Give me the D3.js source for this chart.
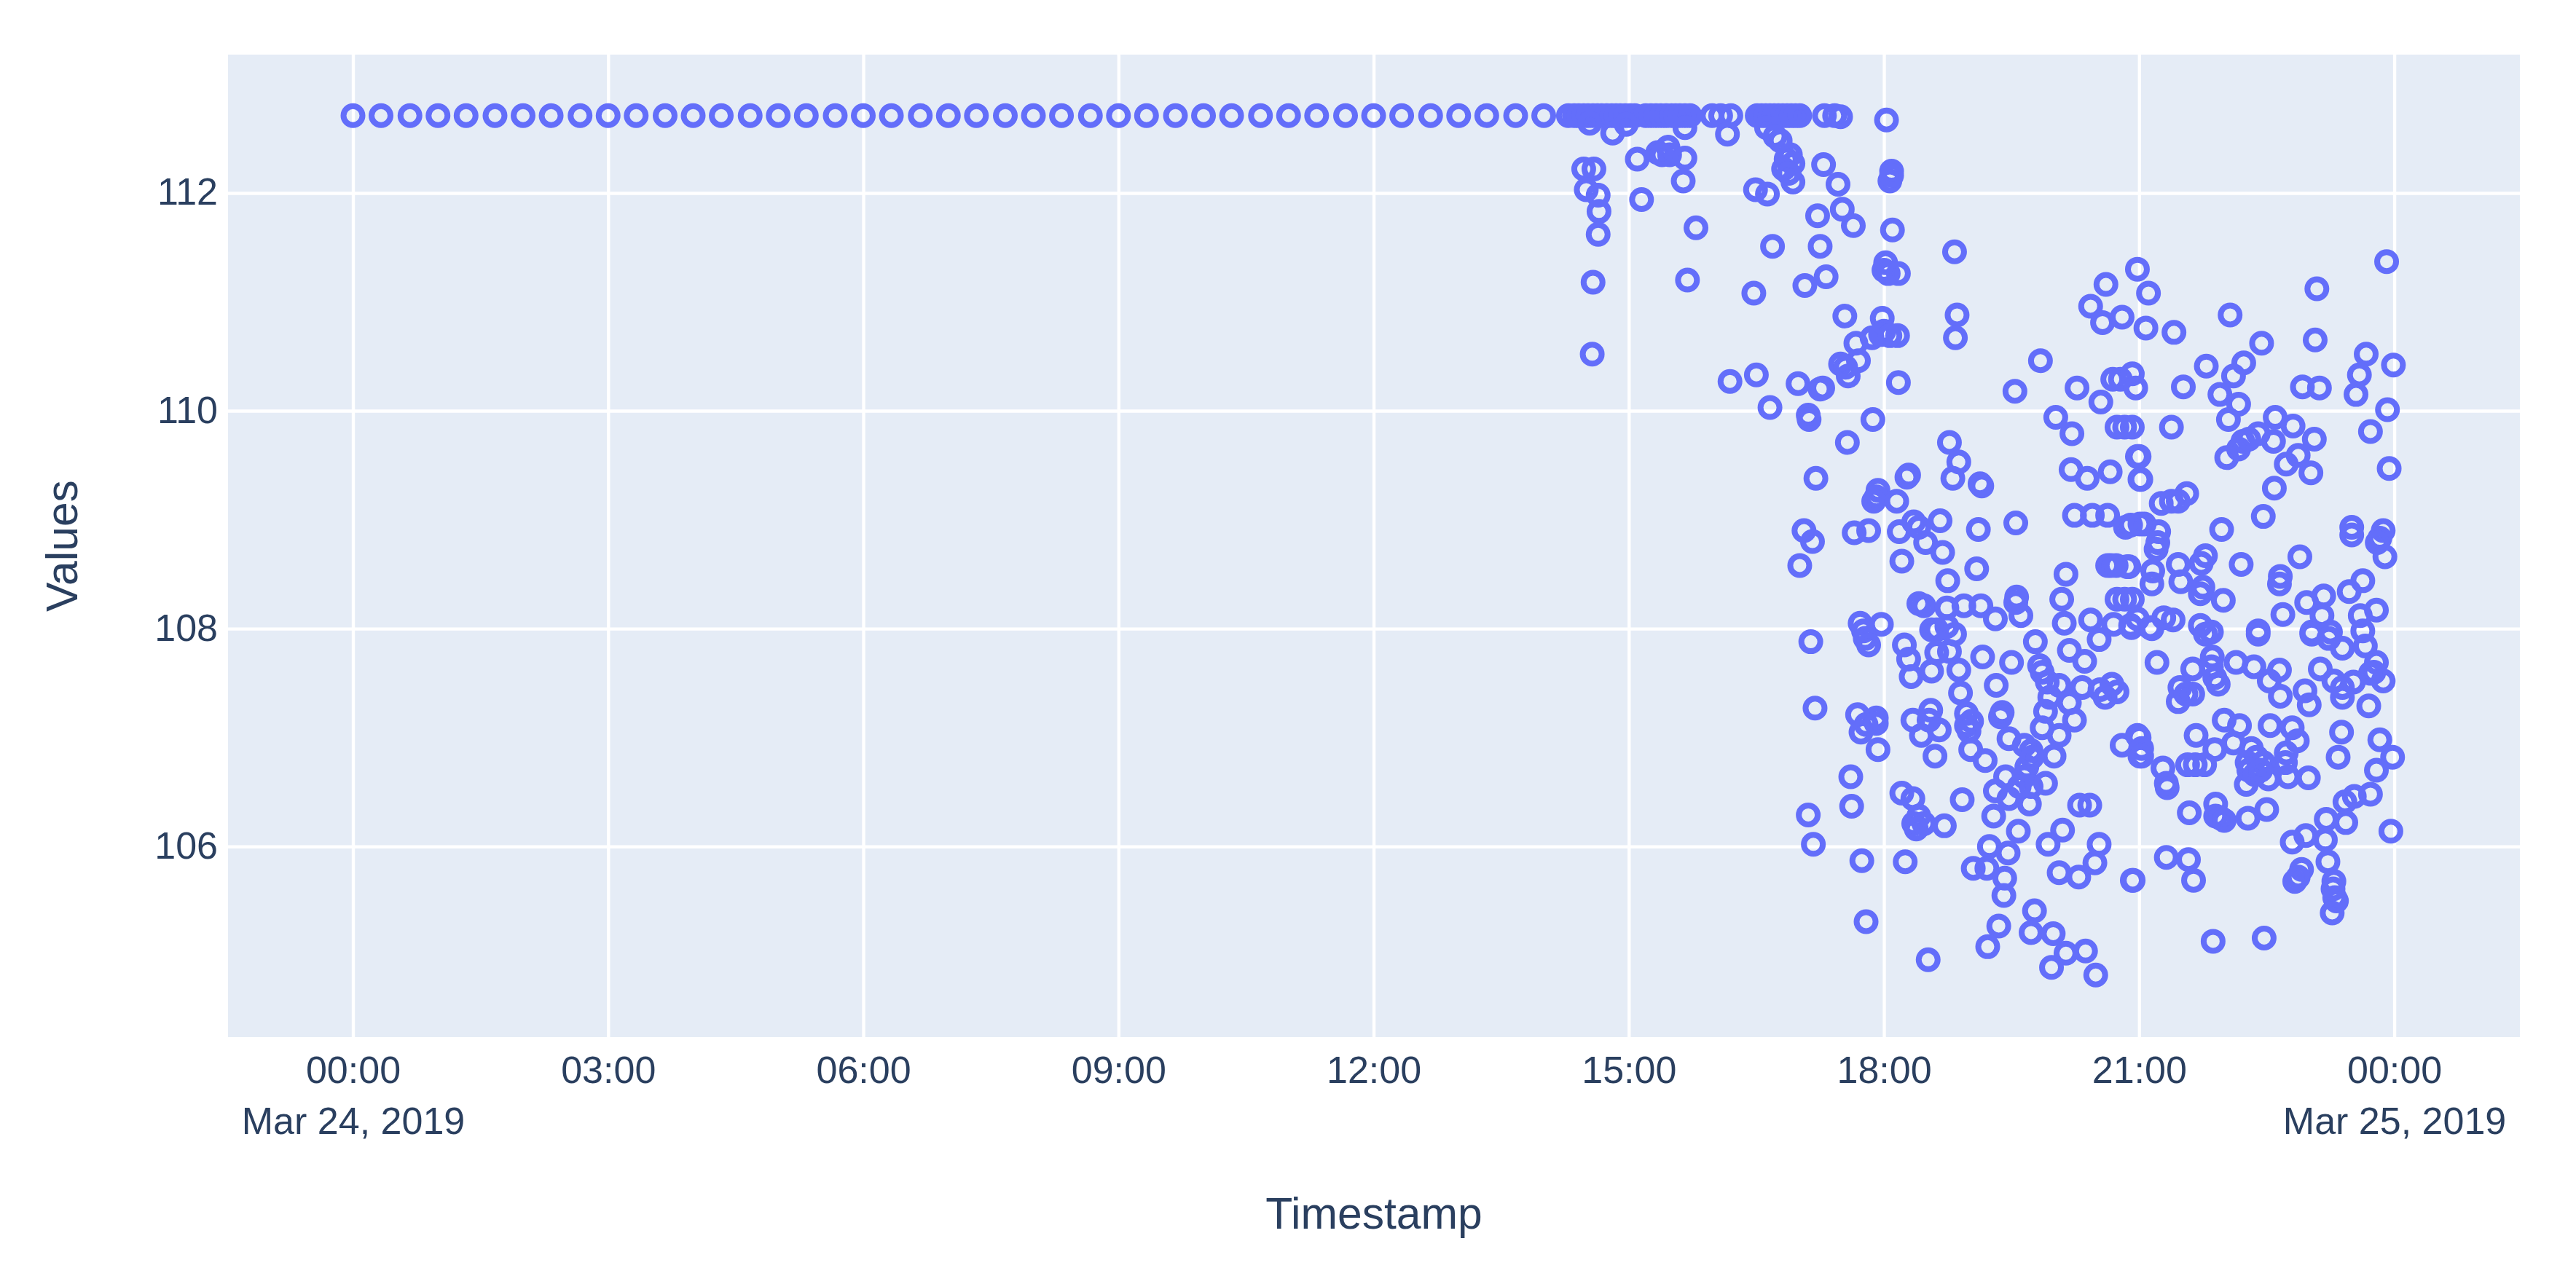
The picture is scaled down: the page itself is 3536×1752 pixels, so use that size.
<!DOCTYPE html>
<html><head><meta charset="utf-8">
<script src="https://cdnjs.cloudflare.com/ajax/libs/d3/7.8.5/d3.min.js"></script>
<style>html,body{margin:0;padding:0;background:#fff}svg{display:block}</style>
</head><body><svg id="chart" width="3536" height="1752"></svg>
<script>
const steadyReadings = [[0,112.71],[0.33,112.71],[0.67,112.71],[1,112.71],[1.33,112.71],[1.67,112.71],[2,112.71],[2.33,112.71],[2.67,112.71],[3,112.71],[3.33,112.71],[3.67,112.71],[4,112.71],[4.33,112.71],[4.67,112.71],[5,112.71],[5.33,112.71],[5.67,112.71],[6,112.71],[6.33,112.71],[6.67,112.71],[7,112.71],[7.33,112.71],[7.67,112.71],[8,112.71],[8.33,112.71],[8.67,112.71],[9,112.71],[9.33,112.71],[9.67,112.71],[10,112.71],[10.33,112.71],[10.67,112.71],[11,112.71],[11.33,112.71],[11.67,112.71],[12,112.71],[12.33,112.71],[12.67,112.71],[13,112.71],[13.33,112.71],[13.67,112.71],[14,112.71]];
const plateauReadings = [[14.29,112.71],[14.36,112.71],[14.41,112.71],[14.47,112.71],[14.52,112.71],[14.58,112.71],[14.63,112.71],[14.68,112.71],[14.74,112.71],[14.8,112.71],[14.85,112.71],[14.9,112.71],[14.96,112.71],[15.02,112.71],[15.07,112.71],[15.2,112.71],[15.26,112.71],[15.32,112.71],[15.38,112.71],[15.44,112.71],[15.5,112.71],[15.55,112.71],[15.6,112.71],[15.66,112.71],[15.72,112.71],[15.98,112.71],[16.08,112.71],[16.2,112.71],[16.51,112.71],[16.56,112.71],[16.61,112.71],[16.66,112.71],[16.71,112.71],[16.76,112.71],[16.81,112.71],[16.86,112.71],[16.91,112.71],[16.96,112.71],[17.01,112.71],[17.3,112.71],[17.42,112.71],[17.49,112.7]];
const fallingReadings = [[14.54,112.64],[14.81,112.55],[14.97,112.63],[15.66,112.6],[16.16,112.54],[16.62,112.6],[16.78,112.48],[16.72,112.52],[16.85,112.31],[16.9,112.35],[16.93,112.27],[16.82,112.22],[16.93,112.1],[16.88,112.18],[18.03,112.67],[15.1,112.31],[15.34,112.37],[15.46,112.42],[15.48,112.35],[15.39,112.35],[15.66,112.32],[15.64,112.11],[15.15,111.94],[14.47,112.22],[14.59,112.22],[14.5,112.03],[14.64,111.98],[14.65,111.83],[14.64,111.62],[14.58,111.18],[14.57,110.52],[15.79,111.68],[15.69,111.2],[16.49,112.03],[16.63,111.99],[17.29,112.26],[17.46,112.08],[17.51,111.85],[17.22,111.79],[17.64,111.7],[18.1,111.66],[18.09,112.2],[18.07,112.11],[18.09,112.16],[16.69,111.51],[17.25,111.51],[18.02,111.36],[18,111.29],[18.05,111.26],[18.17,111.26],[18.83,111.46],[17.32,111.23],[17.07,111.15],[16.47,111.08],[17.54,110.87],[17.98,110.85],[18,110.73],[17.86,110.67],[17.96,110.7],[18.16,110.69],[18.07,110.69],[18.86,110.88],[18.84,110.67],[17.67,110.62],[17.7,110.46],[17.49,110.43],[17.58,110.32],[17.55,110.4],[16.19,110.27],[16.5,110.33],[16.99,110.25],[17.25,110.2],[17.28,110.21],[18.17,110.26],[16.66,110.03],[17.11,109.96],[17.12,109.92],[17.87,109.92],[17.57,109.71]];
const upperScatterReadings = [[19.84,110.46],[19.54,110.18],[20.27,110.21],[20.55,110.08],[20.69,110.29],[20.78,110.29],[20.61,111.16],[20.43,110.96],[20.57,110.81],[20.8,110.86],[23.91,111.37],[23.09,111.12],[20.98,111.3],[21.11,111.08],[21.08,110.76],[21.41,110.72],[22.07,110.88],[22.44,110.62],[23.07,110.65],[23.67,110.52],[23.99,110.42],[23.59,110.33],[23.55,110.15],[22.92,110.22],[23.12,110.21],[21.79,110.41],[22.23,110.44],[22.11,110.32],[21.52,110.22],[21.95,110.15],[22.17,110.06],[20.92,110.34],[20.96,110.21],[23.92,110.01],[23.72,109.81],[23.94,109.47],[20.92,109.85],[21.38,109.85],[22.05,109.92],[22.6,109.94],[22.81,109.86],[23.06,109.74],[22.4,109.79],[22.58,109.72],[22.22,109.72],[22.17,109.65],[22.29,109.74],[22.03,109.57],[22.87,109.59],[22.73,109.51],[23.02,109.43],[22.59,109.29],[22.46,109.03],[21,109.58],[21.02,109.37],[21.56,109.24],[21.46,109.17],[21.26,109.15],[21.38,109.17],[21.06,108.96],[20.9,108.95],[21.23,108.89],[21.22,108.79],[21.2,108.73],[21.97,108.91],[23.5,108.93],[23.5,108.86],[23.87,108.9],[23.83,108.83],[23.8,108.79],[23.89,108.66],[22.89,108.66],[22.66,108.48],[22.65,108.41],[21.78,108.67],[21.73,108.6],[22.2,108.59],[21.46,108.59],[21.16,108.53],[21.15,108.41],[21.49,108.43],[21.75,108.38],[21.72,108.32],[21.99,108.26],[20.88,108.57],[23.63,108.44],[23.47,108.34],[23.17,108.3],[22.97,108.24],[23.15,108.12],[22.69,108.13],[23.79,108.17],[23.6,108.12],[21.4,108.08],[21.29,108.1],[21.13,108.01],[20.9,108.03],[21.72,108.03],[21.85,107.97],[22.4,107.98],[23.03,107.97],[23.25,107.97]];
const middleReadings = [[17.2,109.38],[18.77,109.71],[18.88,109.53],[18.81,109.38],[18.29,109.41],[18.27,109.39],[19.15,109.31],[19.13,109.33],[17.93,109.27],[17.91,109.21],[17.88,109.17],[18.15,109.17],[18.35,108.98],[18.18,108.89],[18.66,108.99],[18.49,108.79],[18.69,108.7],[18.41,108.93],[19.11,108.91],[19.55,108.97],[17.06,108.9],[17.16,108.8],[17.65,108.88],[17.82,108.9],[17.01,108.58],[18.21,108.62],[19.09,108.55],[18.75,108.44],[20.02,109.94],[20.21,109.79],[20.2,109.46],[20.39,109.38],[20.66,109.44],[20.83,109.85],[20.74,109.85],[20.98,109.58],[21.01,109.37],[20.24,109.04],[20.45,109.04],[20.63,109.04],[20.84,108.93],[21.01,108.96],[20.14,108.5],[20.09,108.27],[20.12,108.05],[20.43,108.08],[20.67,108.58],[20.63,108.58],[20.73,108.58],[20.86,108.57],[20.74,108.27],[20.92,108.27],[20.83,108.27],[20.7,108.04],[20.91,108.01],[20.98,108.09],[18.41,108.23],[18.47,108.21],[18.74,108.19],[18.94,108.21],[19.14,108.21],[19.31,108.09],[19.56,108.29],[19.55,108.24],[19.61,108.12],[19.78,107.88],[20.18,107.8],[20.36,107.7],[20.53,107.9],[17.72,108.05],[17.97,108.04],[17.76,107.98],[17.78,107.91],[17.82,107.85],[17.14,107.88],[18.24,107.85],[18.29,107.72],[18.32,107.56],[18.62,107.99],[18.83,107.95],[18.56,107.99],[18.74,108.02],[18.62,107.78],[18.77,107.79],[18.56,107.61],[18.88,107.62],[19.16,107.74],[19.5,107.69],[18.9,107.41],[19.32,107.48],[19.83,107.66],[19.86,107.6],[19.92,107.51],[20.06,107.48],[20.33,107.46],[20.54,107.44],[20.68,107.49],[20.74,107.42],[19.95,107.37],[20.18,107.32],[20.6,107.37]];
const lowerLeftReadings = [[17.19,107.27],[17.69,107.21],[17.91,107.18],[17.79,107.12],[17.73,107.05],[17.91,107.13],[17.93,106.89],[18.34,107.16],[18.55,107.25],[18.53,107.16],[18.44,107.02],[18.65,107.07],[18.6,106.83],[18.97,107.22],[18.97,107.11],[19.03,107.15],[19,107.06],[19.02,106.89],[19.19,106.79],[19.39,107.23],[19.37,107.19],[19.47,106.99],[19.9,107.24],[19.86,107.09],[20.24,107.16],[20.06,107.02],[20,106.83],[19.73,106.88],[19.65,106.93],[19.68,106.73],[19.74,106.82],[19.65,106.64],[19.73,106.55],[19.9,106.58],[19.43,106.64],[19.47,106.44],[19.31,106.51],[19.71,106.39],[19.59,106.55],[19.29,106.28],[19.58,106.14],[20.8,106.93],[20.98,107.02],[21.01,106.83],[20.3,106.38],[20.42,106.38],[17.61,106.64],[17.62,106.37],[17.11,106.29],[17.17,106.02],[18.21,106.49],[18.34,106.44],[18.41,106.28],[18.35,106.21],[18.47,106.21],[18.38,106.16],[18.71,106.19],[18.92,106.43],[17.74,105.87],[18.25,105.86],[17.79,105.31],[18.52,104.96],[20.1,106.15],[19.93,106.02],[20.53,106.02],[20.06,105.76],[20.29,105.72],[20.48,105.85],[20.92,105.69],[19.24,106],[19.46,105.94],[19.05,105.8],[19.21,105.8],[19.42,105.71],[19.41,105.55],[19.35,105.27],[19.22,105.08],[19.77,105.41],[19.73,105.21],[19.99,105.2],[20.14,105.02],[20.37,105.04],[19.97,104.89],[20.49,104.82]];
const lowerRightReadings = [[21.15,108],[21.78,107.95],[22.4,107.95],[23.03,107.95],[23.23,107.91],[23.39,107.82],[23.66,107.84],[23.63,107.98],[21.21,107.69],[21.86,107.74],[21.63,107.63],[21.85,107.65],[21.89,107.55],[21.93,107.49],[22.14,107.69],[22.35,107.65],[22.65,107.62],[22.53,107.52],[22.66,107.38],[22.95,107.43],[23,107.3],[21.48,107.46],[21.46,107.33],[21.63,107.4],[21.55,107.4],[23.13,107.63],[23.29,107.52],[23.39,107.46],[23.52,107.51],[23.39,107.37],[23.7,107.29],[23.79,107.69],[23.76,107.6],[23.87,107.52],[23.72,107.59],[22,107.16],[22.18,107.11],[22.54,107.11],[22.8,107.09],[21.67,107.02],[21.89,106.89],[22.11,106.95],[21,107],[21.03,106.9],[21.03,106.83],[21.28,106.72],[21.33,106.54],[21.32,106.58],[22.86,106.97],[22.73,106.86],[22.72,106.77],[22.99,106.63],[22.75,106.64],[21.66,106.75],[21.57,106.75],[21.77,106.75],[22.32,106.9],[22.38,106.82],[22.27,106.77],[22.46,106.77],[22.29,106.7],[22.26,106.57],[22.52,106.62],[22.36,106.66],[22.43,106.7],[23.38,107.05],[23.34,106.82],[23.83,106.98],[23.98,106.82],[23.79,106.7],[23.72,106.48],[23.53,106.46],[23.42,106.41],[23.43,106.22],[23.2,106.25],[23.19,106.06],[22.96,106.1],[22.8,106.04],[23.96,106.14],[23.22,105.86],[21.59,106.31],[21.9,106.39],[21.9,106.28],[21.96,106.26],[22,106.24],[22.28,106.26],[22.5,106.34],[21.32,105.9],[21.58,105.88],[21.64,105.69],[20.93,105.69],[22.91,105.79],[22.83,105.68],[22.87,105.72],[23.29,105.68],[23.3,105.53],[23.32,105.5],[23.27,105.39],[23.28,105.61],[21.87,105.13],[22.47,105.16]];

const xTickHours = [0,3,6,9,12,15,18,21,24];
const xTickLabels = ["00:00","03:00","06:00","09:00","12:00","15:00","18:00","21:00","00:00"];
const xDateLabels = {0:"Mar 24, 2019",24:"Mar 25, 2019"};
const yTickValues = [106,108,110,112];
const xDomainHours = [-1.469,25.477];
const yDomainValues = [104.25,113.27];

const W=3536,H=1752,L=313,R=3459,T=75,B=1424;
const TEXT="#2a3f5f",BG="#e5ecf6",MARK="#636efa",FONT="'Liberation Sans',Arial,sans-serif";
const start=Date.UTC(2019,2,24);
const toDate=h=>new Date(start+h*3600000);
const x=d3.scaleUtc().domain(xDomainHours.map(toDate)).range([L,R]);
const y=d3.scaleLinear().domain(yDomainValues).range([B,T]);
const svg=d3.select("#chart").style("font-family",FONT);
svg.append("rect").attr("width",W).attr("height",H).attr("fill","#fff");
svg.append("rect").attr("x",L).attr("y",T).attr("width",R-L).attr("height",B-T).attr("fill",BG);

const xAxis=svg.append("g").attr("transform",`translate(0,${B})`)
  .call(d3.axisBottom(x).tickValues(xTickHours.map(toDate)).tickSize(-(B-T)).tickFormat((d,i)=>xTickLabels[i]));
xAxis.select(".domain").remove();
xAxis.selectAll(".tick line").attr("stroke","#fff").attr("stroke-width",4.4);
xAxis.selectAll(".tick text").attr("y",0).attr("dy",0).attr("fill",TEXT).style("font-size","52px").style("font-family",FONT)
  .attr("transform","translate(0,63)");
xAxis.selectAll(".tick").filter((d,i)=>xDateLabels[xTickHours[i]]!==undefined).append("text")
  .attr("y",133).attr("text-anchor","middle").attr("fill",TEXT).style("font-size","52px").style("font-family",FONT)
  .text((d)=>xDateLabels[(d-start)/3600000]);

const yAxis=svg.append("g").attr("transform",`translate(${L},0)`)
  .call(d3.axisLeft(y).tickValues(yTickValues).tickSize(-(R-L)).tickFormat(d3.format("d")));
yAxis.select(".domain").remove();
yAxis.selectAll(".tick line").attr("stroke","#fff").attr("stroke-width",4.4);
yAxis.selectAll(".tick text").attr("x",-14).attr("dy",16).attr("fill",TEXT).style("font-size","52px").style("font-family",FONT);

const points=[...steadyReadings,...plateauReadings,...fallingReadings,...upperScatterReadings,...middleReadings,...lowerLeftReadings,...lowerRightReadings];
svg.append("g").selectAll("circle").data(points).join("circle")
  .attr("cx",d=>x(toDate(d[0]))).attr("cy",d=>y(d[1])).attr("r",13)
  .attr("fill","none").attr("stroke",MARK).attr("stroke-width",8);

svg.append("text").attr("x",(L+R)/2).attr("y",1687).attr("text-anchor","middle").attr("fill",TEXT).style("font-size","60.6px").text("Timestamp");
svg.append("text").attr("transform",`translate(106,${(T+B)/2}) rotate(-90)`).attr("text-anchor","middle").attr("fill",TEXT).style("font-size","60.6px").text("Values");
</script></body></html>
